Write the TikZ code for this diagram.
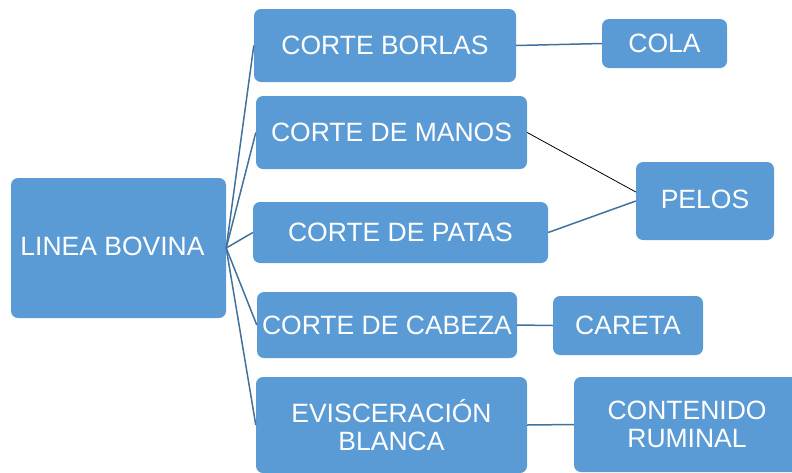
\documentclass[tikz,border=0pt]{standalone}
\usepackage{fontspec}
\setmainfont{Liberation Sans}

\definecolor{boxblue}{HTML}{5B9BD5}
\definecolor{lineblue}{HTML}{41719C}

\begin{document}
\begin{tikzpicture}[
    x=1pt, y=-1pt,
    box/.style={rectangle, rounded corners=7pt, fill=boxblue, text=white, inner sep=0pt, align=center, font=\fontsize{26.5}{28}\selectfont},
    link/.style={lineblue, line width=1.5pt}
]
    \clip (0,0) rectangle (792,472);

    % Root
    \node[box, minimum width=215pt, minimum height=140pt, text depth=3pt] (linea) at (118.5,248) {LINEA BOVINA\hspace{12pt}};

    % Second level
    \node[box, minimum width=262pt, minimum height=73pt] (borlas) at (385,45.5) {CORTE BORLAS};
    \node[box, minimum width=271pt, minimum height=73pt] (manos) at (391.5,132.5) {CORTE DE MANOS};
    \node[box, minimum width=295pt, minimum height=61pt] (patas) at (400.5,232.5) {CORTE DE PATAS};
    \node[box, minimum width=260pt, minimum height=66pt] (cabeza) at (387,325) {CORTE DE CABEZA};
    \node[box, minimum width=271pt, minimum height=96pt] (visceras) at (391.5,425) {EVISCERACIÓN\\BLANCA};

    % Third level
    \node[box, minimum width=125pt, minimum height=49pt] (cola) at (664.5,43.5) {COLA};
    \node[box, minimum width=138pt, minimum height=78pt, text depth=3pt] (pelos) at (705,201) {PELOS};
    \node[box, minimum width=150pt, minimum height=59pt] (careta) at (628,325.5) {CARETA};
    \node[box, minimum width=226pt, minimum height=95pt] (ruminal) at (687,424.5) {CONTENIDO\\RUMINAL};

    % Links
    \draw[link] (linea.east) -- (borlas.west);
    \draw[link] (linea.east) -- (manos.west);
    \draw[link] (linea.east) -- (patas.west);
    \draw[link] (linea.east) -- (cabeza.west);
    \draw[link] (linea.east) -- (visceras.west);
    \draw[link] (borlas.east) -- (cola.west);
    \draw[black, line width=0.8pt] (manos.east) -- ([yshift=9pt]pelos.west);
    \draw[link] (patas.east) -- (pelos.west);
    \draw[link] (cabeza.east) -- (careta.west);
    \draw[link] (visceras.east) -- (ruminal.west);
\end{tikzpicture}
\end{document}
